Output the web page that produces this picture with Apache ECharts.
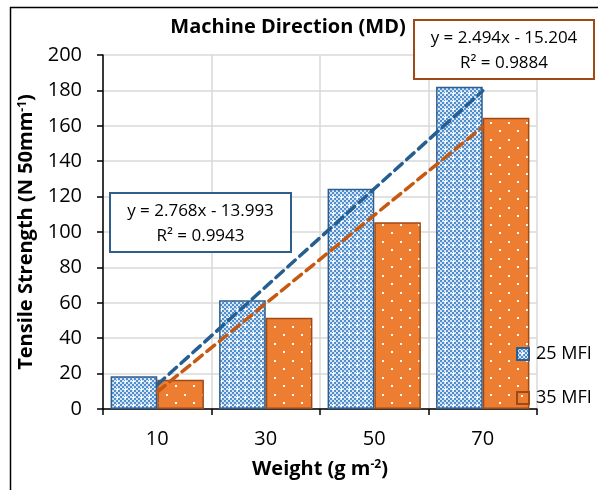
<!DOCTYPE html>
<html>
<head>
<meta charset="utf-8">
<script src="https://cdn.jsdelivr.net/npm/echarts@6/dist/echarts.min.js"></script>
<style>html,body{margin:0;padding:0;background:#fff}#c{width:598px;height:490px}</style>
</head>
<body>
<div id="c"></div>
<script>
const categories = ['10', '30', '50', '70'];
const mfi25 = [18.5, 61.5, 124.5, 182];
const mfi35 = [16.5, 51.5, 105.5, 164.5];
const trend25 = [13.7, 69.1, 124.4, 179.8];
const trend35 = [9.7, 59.6, 109.5, 159.4];
const seriesNames = ['25 MFI', '35 MFI'];
const eq25 = ['y = 2.768x - 13.993', 'R² = 0.9943'];
const eq35 = ['y = 2.494x - 15.204', 'R² = 0.9884'];

const FONT = 'Open Sans';

function bluePattern() {
  const c = document.createElement('canvas');
  c.width = 8; c.height = 8;
  const g = c.getContext('2d');
  g.fillStyle = '#d6e6f6'; g.fillRect(0, 0, 8, 8);
  g.fillStyle = '#4f8fd0';
  for (let y = 0; y < 8; y += 2) for (let x = 0; x < 8; x += 2) {
    if (((x + y) / 2) % 2 === 0) g.fillRect(x, y, 2, 2);
  }
  g.fillStyle = '#ffffff';
  g.fillRect(5, 4, 1, 3); g.fillRect(4, 5, 3, 1);
  return c;
}
function orangePattern() {
  const c = document.createElement('canvas');
  c.width = 18; c.height = 17;
  const g = c.getContext('2d');
  g.fillStyle = '#ed7d31'; g.fillRect(0, 0, 18, 17);
  g.fillStyle = '#ffffff';
  g.fillRect(4, 3, 2, 2);
  g.fillRect(13, 11, 2, 2);
  return c;
}

const chart = echarts.init(document.getElementById('c'), null, {renderer: 'canvas'});

function eqBox(x, y, w, h, lines, border) {
  return {
    type: 'group', left: x, top: y, z: 100,
    children: [
      {type: 'rect', z: 100, shape: {x: 0, y: 0, width: w, height: h}, style: {fill: '#fff', stroke: border, lineWidth: 2}},
      {type: 'text', z: 101, style: {x: w / 2, y: h / 2 + 1, text: lines.join('\n'), fill: '#000', font: '17px "' + FONT + '"', align: 'center', verticalAlign: 'middle', lineHeight: 25}}
    ]
  };
}

const supStyle = {fontFamily: FONT, fontWeight: 'bold', fontSize: 12, color: '#000', padding: [0, 0, 9, 0]};

chart.setOption({
  animation: false,
  textStyle: {fontFamily: FONT, color: '#000'},
  title: {
    text: 'Machine Direction (MD)', left: 283, top: 12, textAlign: 'center',
    textStyle: {fontFamily: FONT, fontWeight: 'bold', fontSize: 20, color: '#000'}
  },
  grid: {left: 103, right: 61, top: 55, bottom: 81, containLabel: false},
  legend: {
    data: seriesNames, orient: 'vertical', left: 511, top: 340, itemWidth: 12, itemHeight: 12, itemGap: 26,
    icon: 'rect',
    textStyle: {fontFamily: FONT, fontSize: 18, color: '#000', padding: [0, 0, 0, 2]}
  },
  xAxis: {
    type: 'category', data: categories, boundaryGap: true,
    name: 'Weight (g m{sup|-2})', nameLocation: 'middle', nameGap: 50,
    nameTextStyle: {fontFamily: FONT, fontWeight: 'bold', fontSize: 20, color: '#000', rich: {sup: supStyle}},
    axisLine: {lineStyle: {color: '#000', width: 1.5}},
    axisTick: {show: true, length: 6, lineStyle: {color: '#000', width: 1.5}},
    axisLabel: {fontFamily: FONT, fontSize: 20, color: '#000', margin: 20},
    splitLine: {show: true, interval: 0, lineStyle: {color: '#d9d9d9', width: 1.5}}
  },
  yAxis: {
    type: 'value', min: 0, max: 200, interval: 20,
    name: 'Tensile Strength (N 50mm{sup|-1})', nameLocation: 'middle', nameGap: 63, nameRotate: 90,
    nameTextStyle: {fontFamily: FONT, fontWeight: 'bold', fontSize: 20, color: '#000', rich: {sup: supStyle}},
    axisLine: {show: true, lineStyle: {color: '#000', width: 1.5}},
    axisTick: {show: true, length: 6, lineStyle: {color: '#000', width: 1.5}},
    axisLabel: {fontFamily: FONT, fontSize: 20, color: '#000', margin: 21},
    splitLine: {show: true, lineStyle: {color: '#d9d9d9', width: 1.5}}
  },
  series: [
    {name: seriesNames[0], type: 'bar', data: mfi25, barGap: '0%', barCategoryGap: '14%',
      itemStyle: {color: {image: bluePattern(), repeat: 'repeat'}, borderColor: '#2f5d8c', borderWidth: 1.5}},
    {name: seriesNames[1], type: 'bar', data: mfi35, barGap: '0%', barCategoryGap: '14%',
      itemStyle: {color: {image: orangePattern(), repeat: 'repeat'}, borderColor: '#9e4a16', borderWidth: 1.5}},
    {name: 'trend25', type: 'line', data: trend25, symbol: 'none', z: 5, silent: true,
      lineStyle: {color: '#255e91', width: 3.5, type: [10, 6], cap: 'round'}},
    {name: 'trend35', type: 'line', data: trend35, symbol: 'none', z: 5, silent: true,
      lineStyle: {color: '#c65911', width: 3.5, type: [10, 6], cap: 'round'}}
  ],
  graphic: [
    {type: 'rect', left: 8, top: 5, z: -10, shape: {x: 0, y: 0, width: 600, height: 500}, style: {fill: 'none', stroke: '#000', lineWidth: 1.5}},
    eqBox(109, 192, 181, 59, eq25, '#2f5d8c'),
    eqBox(413, 19, 180, 59, eq35, '#9e4a16')
  ]
});
</script>
</body>
</html>
